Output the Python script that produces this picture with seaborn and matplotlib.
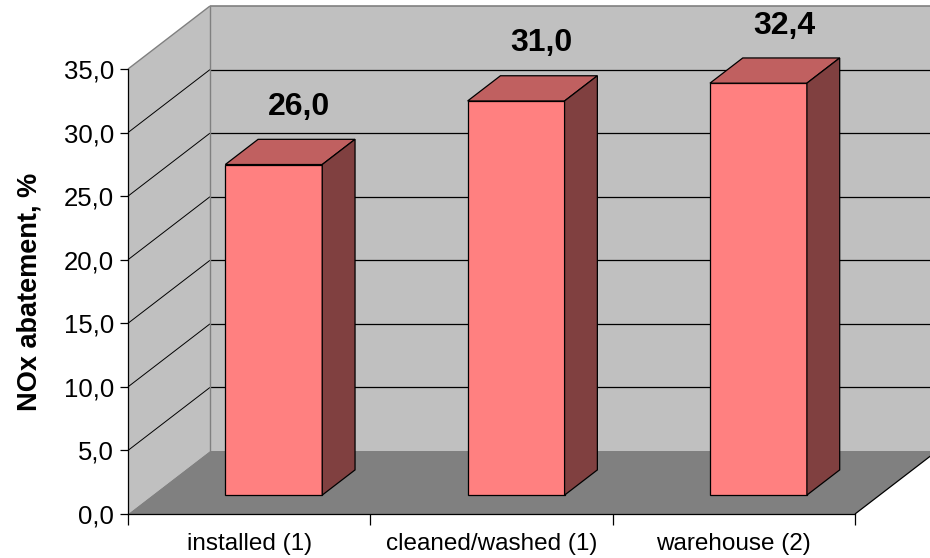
import matplotlib
matplotlib.use("Agg")
import matplotlib.pyplot as plt
from matplotlib.patches import Polygon
from matplotlib.lines import Line2D
import pandas as pd
import seaborn as sns

categories = ["installed (1)", "cleaned/washed (1)", "warehouse (2)"]
abatement = [26.0, 31.0, 32.4]
y_ticks = [0, 5, 10, 15, 20, 25, 30, 35]


def comma(v):
    return f"{v:.1f}".replace(".", ",")


sns.set_theme(style="white")
plt.rcParams["font.family"] = ["Liberation Sans", "DejaVu Sans"]

W, H, DPI = 930, 558, 100
fig = plt.figure(figsize=(W / DPI, H / DPI), dpi=DPI)
fig.patch.set_facecolor("white")

# axes = front plane of the 3D chart box
ax = fig.add_axes([128 / W, 1 - 514 / H, 727 / W, 445 / H])
ax.patch.set_visible(False)

df = pd.DataFrame({"sample": categories, "nox": abatement})
sns.barplot(data=df, x="sample", y="nox", width=0.4, color="#FF8080",
            saturation=1, edgecolor="black", linewidth=0.9, ax=ax, zorder=4)
bars = list(ax.patches)

xmin, xmax = -0.5, 2.5
ymin, ymax = y_ticks[0], y_ticks[-1]
ax.set_xlim(xmin, xmax)
ax.set_ylim(ymin, ymax)

# depth of the box (pixels) converted to data units
p0 = ax.transData.transform((0, 0))
p1 = ax.transData.transform((1, 1))
ddx = 82 / (p1[0] - p0[0])
ddy = 63 / (p1[1] - p0[1])

WALL = "#C0C0C0"
FLOOR = "#808080"
EDGE = "#808080"


def poly(pts, fc, z, ec="none", lw=0):
    ax.add_patch(Polygon(pts, closed=True, facecolor=fc, edgecolor=ec,
                         linewidth=lw, clip_on=False, zorder=z))


def line(xs, ys, color, lw, z):
    ax.add_line(Line2D(xs, ys, color=color, linewidth=lw, clip_on=False,
                       zorder=z, solid_capstyle="butt"))


# walls and floor
poly([(xmin, ymin), (xmin + ddx, ymin + ddy), (xmin + ddx, ymax + ddy), (xmin, ymax)], WALL, 0)
poly([(xmin + ddx, ymin + ddy), (xmax + ddx, ymin + ddy),
      (xmax + ddx, ymax + ddy), (xmin + ddx, ymax + ddy)], WALL, 0)
poly([(xmin, ymin), (xmax, ymin), (xmax + ddx, ymin + ddy), (xmin + ddx, ymin + ddy)], FLOOR, 1)

# gridlines on side wall and back wall
for t in y_ticks[1:-1]:
    line([xmin, xmin + ddx], [t, t + ddy], "black", 0.7, 2)
    line([xmin + ddx, xmax + ddx], [t + ddy, t + ddy], "black", 0.9, 2)

# box edges
line([xmin, xmin + ddx], [ymax, ymax + ddy], EDGE, 1.0, 2)
line([xmin + ddx, xmax + ddx], [ymax + ddy, ymax + ddy], EDGE, 1.2, 2)
line([xmin + ddx, xmin + ddx], [ymin + ddy, ymax + ddy], EDGE, 1.0, 2)
line([xmax, xmax + ddx], [ymin, ymin + ddy], "black", 0.9, 2)

# turn the flat bars into boxes standing on the floor
f0, f1 = 0.30, 0.70
bx, by = (f1 - f0) * ddx, (f1 - f0) * ddy
for rect in bars:
    rect.set_x(rect.get_x() + f0 * ddx)
    rect.set_y(f0 * ddy)
    x0 = rect.get_x()
    x1 = x0 + rect.get_width()
    y0 = rect.get_y()
    y1 = y0 + rect.get_height()
    poly([(x0, y1), (x1, y1), (x1 + bx, y1 + by), (x0 + bx, y1 + by)],
         "#C06060", 4, ec="black", lw=0.9)
    poly([(x1, y0), (x1 + bx, y0 + by), (x1 + bx, y1 + by), (x1, y1)],
         "#804040", 4, ec="black", lw=0.9)

# value labels above the boxes
for i, v in enumerate(abatement):
    ax.annotate(comma(v), xy=(i + 0.61 * ddx, v + 0.61 * ddy), xytext=(0, 21.6),
                textcoords="offset points", ha="center", va="baseline",
                fontsize=23, fontweight="bold", color="black", zorder=6,
                annotation_clip=False)

# axes styling
for side in ("top", "right"):
    ax.spines[side].set_visible(False)
for side in ("left", "bottom"):
    ax.spines[side].set_color("black")
    ax.spines[side].set_linewidth(0.9)
    ax.spines[side].set_zorder(5)

ax.set_yticks(y_ticks)
ax.set_yticklabels([comma(t) for t in y_ticks])
ax.tick_params(axis="y", left=True, direction="out", length=6, width=0.9,
               color="black", labelsize=18.5, pad=4, labelcolor="black")

ax.set_xticks([xmin, 0.5, 1.5, xmax])
ax.set_xticklabels([])
ax.set_xticks(range(len(categories)), labels=categories, minor=True)
ax.tick_params(axis="x", which="major", bottom=True, direction="out", length=8,
               width=0.9, color="black")
ax.tick_params(axis="x", which="minor", bottom=True, length=0, pad=14,
               labelsize=17.5, labelcolor="black")

ax.set_xlabel("")
ax.set_ylabel("NOx abatement, %", fontsize=19.5, fontweight="bold", color="black")
ax.yaxis.set_label_coords(-0.118, 0.5)

fig.savefig("out.png", dpi=DPI, facecolor="white")
